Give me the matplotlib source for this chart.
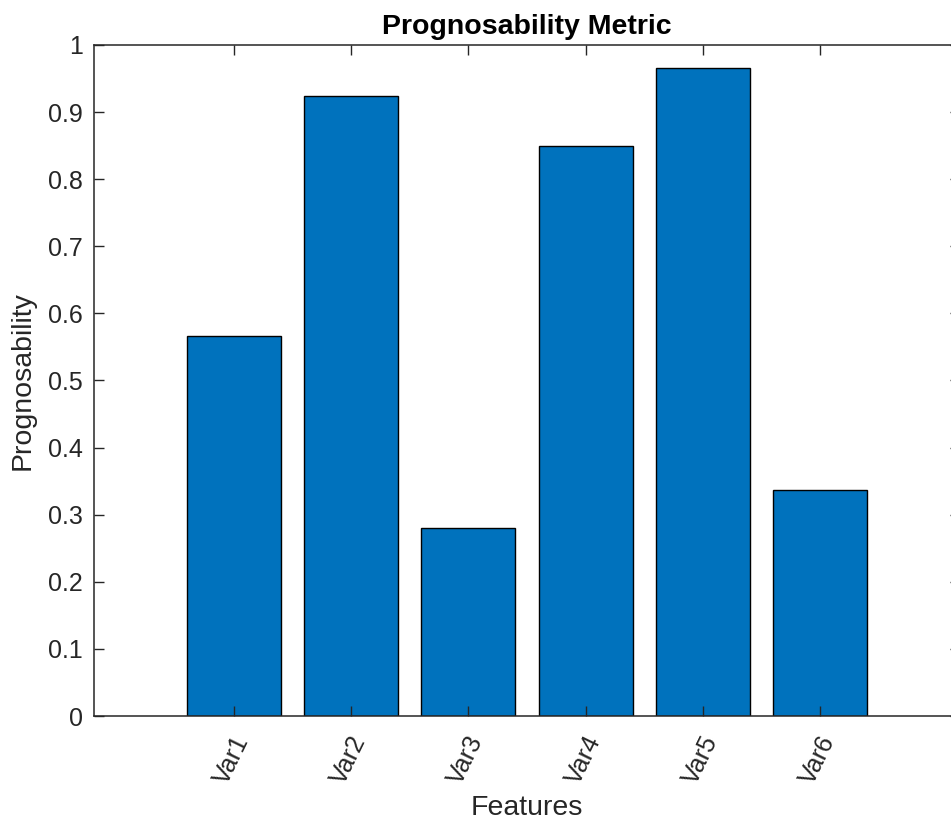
import matplotlib
matplotlib.use('Agg')
import matplotlib.pyplot as plt
from matplotlib.transforms import offset_copy

features = ['Var1', 'Var2', 'Var3', 'Var4', 'Var5', 'Var6']
prognosability = [0.566, 0.924, 0.280, 0.849, 0.966, 0.337]
y_ticks = [0, 0.1, 0.2, 0.3, 0.4, 0.5, 0.6, 0.7, 0.8, 0.9, 1]
y_tick_labels = ['0', '0.1', '0.2', '0.3', '0.4', '0.5', '0.6', '0.7', '0.8', '0.9', '1']

plt.rcParams['font.family'] = ['Liberation Sans', 'DejaVu Sans']
axis_color = '#262626'

fig = plt.figure(figsize=(9.51, 8.21), dpi=100)
# оси чуть выходят за правый край, как на исходной картинке
ax = fig.add_axes([94 / 951, 105 / 821, 866 / 951, 671 / 821])

x = list(range(1, len(features) + 1))
ax.bar(x, prognosability, width=0.8, color='#0072BD', edgecolor='black', linewidth=1.0)

ax.set_xlim(-0.19, 7.19)
ax.set_ylim(0, 1)
ax.set_xticks(x)
ax.set_xticklabels(features, rotation=64, ha='right', va='center',
                   rotation_mode='anchor', fontsize=18, color=axis_color)
ax.set_yticks(y_ticks)
ax.set_yticklabels(y_tick_labels, fontsize=18, color=axis_color)

ax.tick_params(direction='in', length=7, width=1.0, colors=axis_color,
               top=True, right=True, pad=8)
ax.tick_params(axis='x', pad=15)
for s in ax.spines.values():
    s.set_color(axis_color)
    s.set_linewidth(1.1)

# сдвиг подписей по x немного вправо
for lbl in ax.get_xticklabels():
    lbl.set_transform(offset_copy(lbl.get_transform(), fig=fig, x=9, y=0, units='dots'))

ax.set_title('Prognosability Metric', fontsize=20.5, fontweight='bold', pad=8)
ax.set_xlabel('Features', fontsize=20.5, color=axis_color, labelpad=5)
ax.set_ylabel('Prognosability', fontsize=20.5, color=axis_color, labelpad=9)

fig.savefig('out.png', dpi=100)
